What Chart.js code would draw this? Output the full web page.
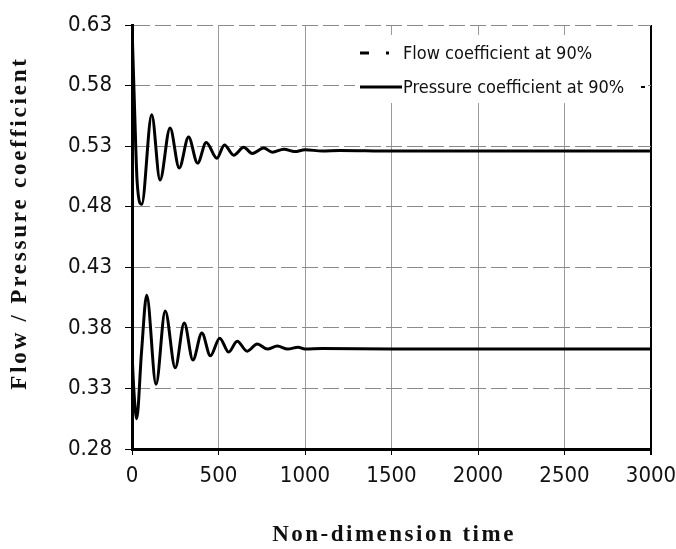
<!DOCTYPE html>
<html>
<head>
<meta charset="utf-8">
<script src="https://cdn.jsdelivr.net/npm/chart.js@4.4.0/dist/chart.umd.min.js"></script>
<style>
  html, body { margin: 0; padding: 0; background: #fff; }
</style>
</head>
<body>
<canvas id="chart" width="676" height="549"></canvas>
<script>
// ===== DATA =====
const pressureTime = [0, 15, 30, 56, 114, 162, 220, 273, 327, 379, 429, 491, 534, 588, 646, 695, 762, 811, 878, 940, 1000, 1100, 1200, 1500, 3000];
const pressureVal  = [0.63, 0.56, 0.50, 0.482, 0.556, 0.502, 0.545, 0.512, 0.5375, 0.516, 0.533, 0.520, 0.531, 0.5225, 0.529, 0.524, 0.5285, 0.525, 0.5275, 0.5255, 0.527, 0.526, 0.5265, 0.526, 0.526];

const flowTime = [0, 10, 27, 55, 85, 139, 192, 250, 302, 352, 404, 453, 507, 559, 608, 666, 724, 782, 840, 900, 960, 1000, 1100, 1500, 3000];
const flowVal  = [0.36, 0.33, 0.305, 0.36, 0.407, 0.3335, 0.394, 0.347, 0.384, 0.3535, 0.3757, 0.357, 0.3715, 0.360, 0.369, 0.3607, 0.3667, 0.3625, 0.365, 0.3625, 0.364, 0.3625, 0.363, 0.3625, 0.3625];

const xTicks = [0, 500, 1000, 1500, 2000, 2500, 3000];
const yTicks = [0.28, 0.33, 0.38, 0.43, 0.48, 0.53, 0.58, 0.63];

const legendLabels = ["Flow coefficient at 90%", "Pressure coefficient at 90%"];
const xTitle = "Non-dimension time";
const yTitle = "Flow / Pressure coefficient";

const sansFamily = "'DejaVu Sans Condensed', 'DejaVu Sans', 'Liberation Sans', sans-serif";
const tickFont = { family: sansFamily, style: "condensed", size: 22 };

// legend inside the plot + spaced serif axis titles
const decorations = {
  id: "decorations",
  afterDraw(chart) {
    const ctx = chart.ctx;
    ctx.save();
    // legend box
    ctx.fillStyle = "#fff";
    ctx.fillRect(355, 35, 293, 68);
    ctx.strokeStyle = "#000";
    ctx.lineWidth = 3;
    ctx.beginPath();
    ctx.moveTo(360, 53); ctx.lineTo(369, 53);
    ctx.moveTo(386, 53); ctx.lineTo(389, 53);
    ctx.stroke();
    ctx.beginPath();
    ctx.moveTo(360, 87); ctx.lineTo(402, 87);
    ctx.stroke();
    ctx.lineWidth = 2;
    ctx.beginPath();
    ctx.moveTo(641, 87); ctx.lineTo(645, 87);
    ctx.stroke();
    ctx.fillStyle = "#111";
    ctx.font = "condensed 18px " + sansFamily;
    ctx.textBaseline = "middle";
    ctx.textAlign = "left";
    ctx.fillText(legendLabels[0], 403, 54);
    ctx.fillText(legendLabels[1], 403, 88);

    // axis titles
    ctx.font = "bold 23px 'Liberation Serif', 'Times New Roman', serif";
    ctx.letterSpacing = "2.5px";
    ctx.textAlign = "center";
    ctx.fillText(xTitle, 394, 535);
    ctx.translate(20, 223);
    ctx.rotate(-Math.PI / 2);
    ctx.letterSpacing = "2.8px";
    ctx.fillText(yTitle, 0, 0);
    ctx.restore();
  }
};

const ctx = document.getElementById("chart").getContext("2d");

new Chart(ctx, {
  type: "line",
  data: {
    datasets: [
      {
        label: legendLabels[1],
        data: pressureTime.map((t, i) => ({ x: t, y: pressureVal[i] })),
        borderColor: "#000",
        borderWidth: 3,
        pointRadius: 0,
        cubicInterpolationMode: "monotone",
        fill: false
      },
      {
        label: legendLabels[0],
        data: flowTime.map((t, i) => ({ x: t, y: flowVal[i] })),
        borderColor: "#000",
        borderWidth: 3,
        pointRadius: 0,
        cubicInterpolationMode: "monotone",
        fill: false
      }
    ]
  },
  options: {
    responsive: false,
    animation: false,
    layout: { padding: { top: 25, right: 25, left: 0, bottom: 0 } },
    plugins: {
      legend: { display: false },
      tooltip: { enabled: false }
    },
    scales: {
      x: {
        type: "linear",
        min: 0,
        max: 3000,
        afterBuildTicks: s => { s.ticks = xTicks.map(v => ({ value: v })); },
        afterFit: s => { s.height = 100; s.paddingRight = 0; s.paddingLeft = 0; },
        grid: {
          color: c => (c.tick && c.tick.value === 3000 ? "#000" : "#9a9a9a"),
          lineWidth: c => (c.tick && c.tick.value === 3000 ? 2 : 1),
          tickColor: "#000",
          tickLength: 6
        },
        border: { color: "#000", width: 3 },
        ticks: { color: "#111", font: tickFont, padding: 8, maxRotation: 0, callback: v => String(v) }
      },
      y: {
        min: 0.28,
        max: 0.63,
        afterBuildTicks: s => { s.ticks = yTicks.map(v => ({ value: v })); },
        afterFit: s => { s.width = 132; s.paddingTop = 0; s.paddingBottom = 0; },
        grid: {
          color: "#8a8a8a",
          lineWidth: 1,
          tickColor: "#000",
          tickLength: 7
        },
        border: { color: "#000", width: 3, dash: [16, 5] },
        ticks: { color: "#111", font: tickFont, padding: 13, callback: v => v.toFixed(2) }
      }
    }
  },
  plugins: [decorations]
});
</script>
</body>
</html>
